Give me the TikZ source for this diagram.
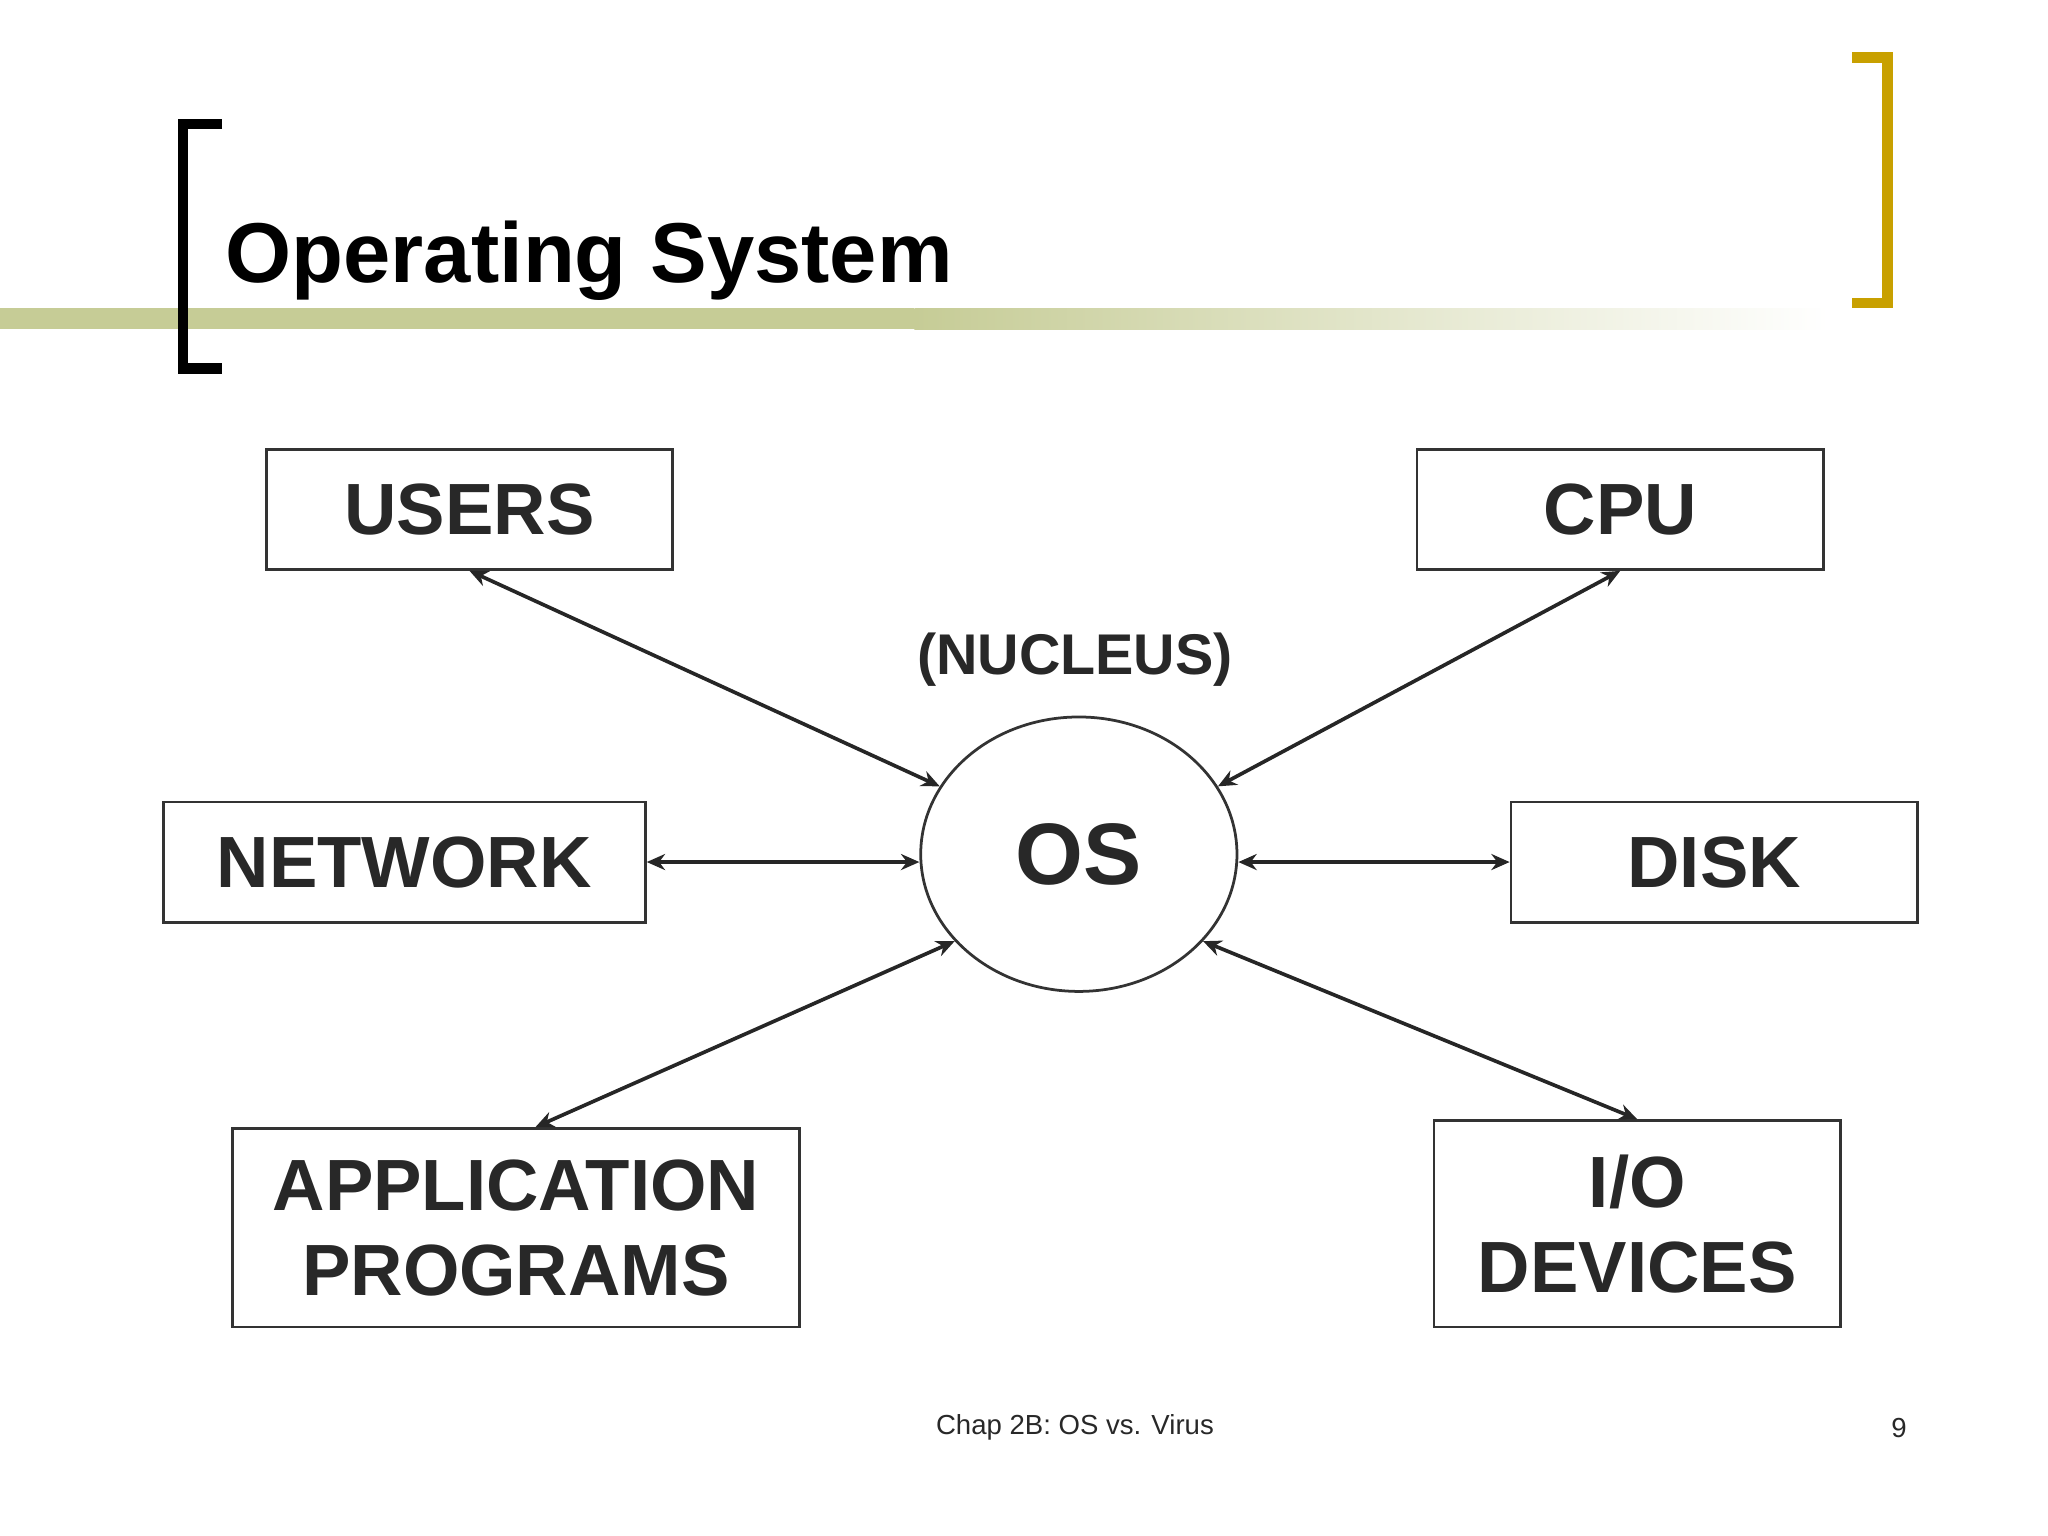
\documentclass[tikz,border=0pt]{standalone}
\usepackage{fontspec}
\setmainfont{Liberation Sans}
\usetikzlibrary{arrows.meta,shapes.geometric}
\definecolor{boxtext}{RGB}{40,40,40}
\definecolor{gold}{RGB}{200,160,0}
\definecolor{bar}{RGB}{198,204,150}
\begin{document}
\begin{tikzpicture}[x=0.01cm,y=-0.01cm]
\tikzstyle{unit}=[draw=black!80,line width=0.6pt,text=boxtext,font=\fontsize{15.8}{18.5}\selectfont\bfseries,align=center,inner sep=0pt]
\tikzstyle{link}=[{Stealth[length=4pt,width=3.5pt]}-{Stealth[length=4pt,width=3.5pt]},line width=0.8pt,draw=black!85]
\useasboundingbox (0,0) rectangle (1568,1176);
% slide frame
\shade[left color=bar,right color=white] (700,236) rectangle (1400,252);
\fill[bar] (0,236) rectangle (700,252);
\draw[line width=2.3pt,black] (170,95) -- (140,95) -- (140,282) -- (170,282);
\draw[line width=2.3pt,gold] (1418,44) -- (1445,44) -- (1445,232) -- (1418,232);
\node (title) [anchor=base west,inner sep=0pt,font=\fontsize{18.5}{22}\selectfont\bfseries] at (172,216) {Operating System};

% boxes around the nucleus
\node (users) [unit,minimum width=3.11cm,minimum height=0.92cm] at (359.5,390) {USERS};
\node (cpu) [unit,minimum width=3.11cm,minimum height=0.92cm] at (1240.5,390) {CPU};
\node (network) [unit,minimum width=3.69cm,minimum height=0.92cm] at (309.5,660) {NETWORK};
\node (disk) [unit,minimum width=3.11cm,minimum height=0.92cm] at (1312.5,660) {DISK};
\node (apps) [unit,minimum width=4.34cm,minimum height=1.52cm] at (395,940) {APPLICATION\\PROGRAMS};
\node (io) [unit,minimum width=3.11cm,minimum height=1.58cm] at (1253.5,937) {I/O\\DEVICES};

% the OS itself
\node (os) [ellipse,draw=black!80,line width=0.6pt,inner sep=0pt,minimum width=2.42cm,minimum height=2.1cm,text=boxtext,font=\fontsize{19}{22}\selectfont\bfseries] at (826,654) {OS};
\node (nucleus) [text=boxtext,font=\fontsize{12.5}{15}\selectfont\bfseries] at (823,505) {(NUCLEUS)};

\draw[link] (users.south) -- (os.154);
\draw[link] (cpu.south) -- (os.26);
\draw[link] (network.east) -- (network.east -| os.west);
\draw[link] (disk.west -| os.east) -- (disk.west);
\draw[link] ([xshift=0.15cm]apps.north) -- (os.215);
\draw[link] (io.north) -- (os.325);

% footer
\node (footer) [font=\fontsize{6}{8}\selectfont,text=boxtext] at (823,1093) {Chap 2B: OS vs. Virus};
\node (page) [font=\fontsize{6}{8}\selectfont,text=boxtext] at (1454,1093) {9};
\end{tikzpicture}
\end{document}
